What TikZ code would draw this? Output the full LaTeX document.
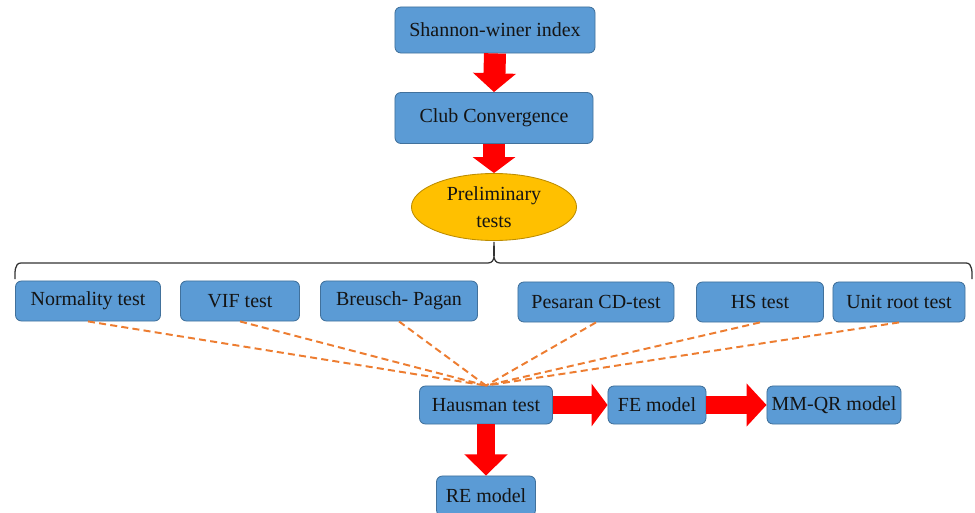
\documentclass[tikz,border=0pt]{standalone}
\usepackage{fontspec}
\setmainfont{Liberation Serif}
\usetikzlibrary{arrows.meta,shapes.geometric}
\definecolor{boxblue}{HTML}{5B9BD5}
\definecolor{boxline}{HTML}{41719C}
\definecolor{ellfill}{HTML}{FFC000}
\definecolor{ellline}{HTML}{BC8C00}
\definecolor{dashorange}{HTML}{ED7D31}
\definecolor{texte}{HTML}{141414}

\tikzset{etape/.style = {rectangle, rounded corners=0.15cm, draw=boxline, fill=boxblue,
                         line width=0.6pt, text=texte, minimum width=#1},
         etape/.default=3cm,
         grosfleche/.style 2 args = {draw=red, line width=#1,
                                     -{Triangle[length=#2,width=1.05cm]}}
        }

\begin{document}
\begin{tikzpicture}[x=0.025cm,y=-0.025cm,inner sep=0pt,
                    font=\fontsize{14.2}{19}\selectfont]
  \tikzstyle{test}=[etape, minimum height=1cm]
  \tikzstyle{pointille}=[draw=dashorange, line width=1.4pt,
                         dash pattern=on 5pt off 3pt]
  \useasboundingbox (0,0) rectangle (975,513);

  % upper chain
  \node[etape=5cm, minimum height=1.15cm] (shannon) at (495,30) {Shannon-winer index};
  \node[etape=4.95cm, minimum height=1.275cm] (club) at (494,118) {Club Convergence};
  \node[ellipse, draw=ellline, fill=ellfill, line width=0.6pt, text=texte,
        minimum width=4.125cm, minimum height=1.675cm, align=center]
        (prelim) at (494,207) {Preliminary\\tests};

  % brace
  \coordinate (accg) at (15,279);
  \coordinate (accd) at (972,279);
  \coordinate (pointe) at (494,242);
  \draw[line width=0.9pt, draw=black!80]
        (accg) to[out=90,in=180] (21,263) -- (488,263) to[out=0,in=-90] (pointe)
        to[out=-90,in=180] (500,263) -- (966,263) to[out=0,in=90] (accd);

  % preliminary tests
  \node[test, minimum width=3.625cm] (normal) at (88,301) {Normality test};
  \node[test, minimum width=2.975cm] (vif) at (240,301) {VIF test};
  \node[test, minimum width=3.925cm] (breusch) at (399,301) {Breusch- Pagan};
  \node[test, minimum width=3.9cm] (pesaran) at (596,302) {Pesaran CD-test};
  \node[test, minimum width=3.175cm] (hs) at (760,302) {HS test};
  \node[test, minimum width=3.3cm] (unit) at (899,302) {Unit root test};

  % models
  \node[etape=3.325cm, minimum height=0.95cm] (hausman) at (486,405) {Hausman test};
  \node[etape=2.45cm, minimum height=0.95cm] (fe) at (657,405) {FE model};
  \node[etape=3.35cm, minimum height=0.95cm] (mmqr) at (834,405) {MM-QR model};
  \node[etape=2.475cm, minimum height=1cm] (re) at (486,496) {RE model};

  \foreach \t in {normal,vif,breusch,pesaran,hs,unit}
    \draw[pointille] (\t.south) -- (hausman.north);

  % red arrows
  \draw[grosfleche={0.55cm}{0.47cm}] (shannon.south) -- (club.north);
  \draw[grosfleche={0.55cm}{0.4cm}] (club.south) -- (prelim.north);
  \draw[grosfleche={0.45cm}{0.4cm}] (hausman.east) -- (fe.west);
  \draw[grosfleche={0.45cm}{0.5cm}] (fe.east) -- (mmqr.west);
  \draw[grosfleche={0.43cm}{0.53cm}] (hausman.south) -- (re.north);
\end{tikzpicture}
\end{document}
